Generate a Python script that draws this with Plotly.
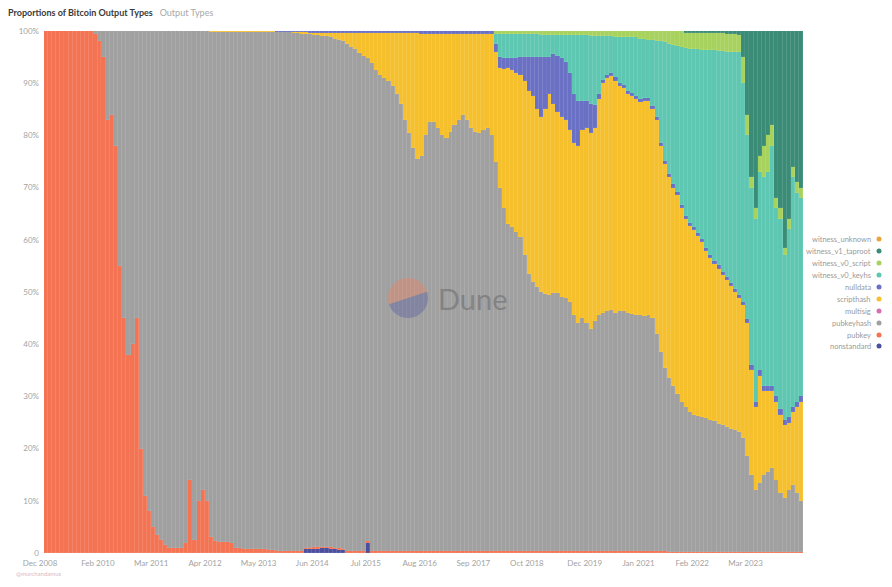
import numpy as np
import pandas as pd
import plotly.graph_objects as go

# monthly shares (%), Jan 2009 .. Apr 2024 (184 months)
months = pd.date_range("2009-01-01", periods=184, freq="MS") + pd.Timedelta(days=14)

pubkey = (
    [100] * 12                                                          # 2009
    + [99.5, 98, 95, 83, 84, 78, 55, 45, 38, 40, 45, 20]                # 2010
    + [11, 8, 5, 3.5, 2.5, 1.5, 1, 1, 1, 1, 2, 14]                      # 2011
    + [2.5, 10, 12, 10, 3, 2.3, 2.2, 2.2, 2.2, 2, 1, 0.9]               # 2012
    + [0.8, 0.8, 0.8, 0.8, 0.7, 0.7, 0.6, 0.5, 0.3, 0.3, 0.3, 0.3]      # 2013
    + [0.3] * 12 + [0.3] * 12 + [0.3] * 12 + [0.3] * 12                 # 2014-2017
    + [0.3] * 12 + [0.3] * 12 + [0.3] * 12                              # 2018-2020
    + [0.3, 0.3, 0.3, 0.3, 0.3, 0.3, 0.3, 0.2, 0.2, 0.2, 0.2, 0.2]      # 2021
    + [0.2] * 12 + [0.2] * 12 + [0.2] * 4                               # 2022-2024
)

nonstandard = (
    [0] * 60
    + [0, 0, 0, 0.7, 0.7, 0.8, 0.8, 0.9, 0.9, 0.8, 0.7, 0.6]            # 2014
    + [0.5, 0, 0, 0, 0, 0, 2.0, 0, 0, 0, 0, 0]                          # 2015
    + [0] * 112
)

pubkeyhash = (
    [0] * 12
    + [0.5, 2, 5, 17, 16, 22, 45, 55, 62, 60, 55, 80]
    + [89, 92, 95, 96.5, 97.5, 98.5, 99, 99, 99, 99, 98, 86]
    + [97.5, 90, 88, 90, 96.9, 97.6, 97.7, 97.7, 97.7, 97.9, 98.9, 99]
    + [99.1, 99.1, 99.1, 99.1, 99.2, 99.2, 99.3, 99.4, 99.5, 99.5, 99.5, 99.5]
    + [99.3, 99.3, 99.2, 98.5, 98.4, 98.2, 98.1, 97.8, 97.8, 97.7, 97.5, 97.3]
    + [97.2, 97.3, 96.7, 96.2, 95.5, 95.0, 92.5, 93.5, 92.2, 91.2, 90.7, 90.2]
    + [89.2, 87.7, 85.7, 82.7, 80.2, 77.2, 75.2, 75.7, 79.7, 82.2, 82.2, 81.2]
    + [79.7, 79.2, 80.4, 81.7, 82.7, 83.7, 82.7, 81.2, 80.4, 80.2, 80.7, 81.2]
    + [79.7, 74.7, 69.7, 65.7, 62.7, 62.2, 61.2, 60.2, 56.7, 53.2, 51.7, 50.7]
    + [49.7, 49.4, 49.1, 49.5, 49.5, 48.7, 48.5, 47.7, 45.2, 43.7, 44.7, 43.7]
    + [42.7, 44.2, 45.2, 45.7, 46, 46.2, 45.7, 46, 46, 45.7, 45.5, 45.3]
    + [45.2, 45.1, 45.3, 44.7, 41.7, 38.2, 35.2, 33.3, 31.8, 30.3, 28.8, 27.8]
    + [26.8, 26.2, 26, 25.8, 25.7, 25.3, 25, 24.6, 24.3, 24, 23.6, 23.3]
    + [23, 21.8, 18.3, 14.8, 11.8, 13.3, 14.8, 15.3, 16.1, 13.8, 11.3, 10.3]
    + [11.8, 12.8, 11.3, 9.8]
)

multisig = [0] * 184

scripthash = (
    [0] * 36
    + [0, 0, 0, 0, 0.1, 0.1, 0.1, 0.1, 0.1, 0.1, 0.1, 0.1]
    + [0.1] * 12
    + [0.2, 0.2, 0.3, 0.3, 0.3, 0.4, 0.4, 0.6, 0.6, 0.8, 1.1, 1.4]
    + [1.6, 2.0, 2.6, 3.1, 3.8, 4.3, 4.8, 5.8, 7.1, 8.1, 8.6, 9.1]
    + [10.1, 11.6, 13.6, 16.6, 19.1, 22.1, 24.1, 23.4, 19.4, 16.9, 16.9, 17.9]
    + [19.4, 19.9, 18.7, 17.4, 16.4, 15.4, 16.4, 17.9, 18.7, 18.9, 18.4, 17.9]
    + [19.4, 21, 23, 26.8, 30, 30, 30.5, 31, 33.5, 35, 35.5, 34]
    + [33.5, 35.3, 38.6, 36.2, 34.7, 34.5, 34.2, 33, 33, 34, 36, 37.4]
    + [37.5, 37, 41.5, 44, 44.7, 44.8, 44.5, 43.2, 42.7, 42, 41.7, 41.4]
    + [40.9, 41.1, 40.9, 40, 41, 39.5, 39, 38.5, 38, 38, 37, 36]
    + [35.7, 35.4, 34.5, 33.5, 31.9, 31, 30.2, 29.7, 28.7, 28.1, 27.4, 26.5]
    + [25.6, 25.5, 25.5, 20, 16, 20.5, 16, 15.5, 14.7, 15, 15, 14]
    + [13, 14, 16.5, 19]
)

nulldata = (
    [0] * 48
    + [0, 0, 0, 0, 0, 0, 0, 0, 0.1, 0.1, 0.1, 0.1]
    + [0.2, 0.2, 0.2, 0.2, 0.3, 0.3, 0.4, 0.4, 0.4, 0.4, 0.4, 0.4]
    + [0.4] * 12
    + [0.4, 0.4, 0.4, 0.4, 0.4, 0.4, 0.4, 0.6, 0.6, 0.6, 0.6, 0.6]
    + [0.6] * 12
    + [0.6, 1.5, 2, 2, 1.8, 2.3, 2.8, 3.5, 4.5, 6.5, 7.5, 10]
    + [11.5, 10, 7, 9.5, 10.8, 11.3, 11, 11, 9.5, 8.5, 5.5, 5.1]
    + [5.5, 4.3, 1, 0.6, 0.6, 0.6, 0.6, 0.6, 0.6, 0.6, 0.6, 0.6]
    + [0.6] * 12 + [0.6] * 12
    + [0.6, 0.6, 0.8, 1, 1, 1, 1, 1, 1, 1, 1, 1]
    + [1, 1, 1, 1]
)

witness_v0_keyhash = (
    [0] * 108
    + [0, 2, 4.4, 4.6, 4.6, 4.6, 4.6, 4.4, 4.4, 4.4, 4.4, 4.4]
    + [4.2, 4.2, 4.2, 3.7, 3.9, 4.4, 5.2, 7.2, 11.2, 12.7, 12.7, 12.7]
    + [13, 13.2, 11, 8.4, 7.4, 7.1, 7.7, 8.7, 9.2, 10.2, 10.7, 11.2]
    + [11.5, 11.4, 11.1, 12.6, 14.4, 19.4, 22.7, 24.9, 26.7, 28.1, 30.4, 32.2]
    + [33.3, 34.1, 35.2, 36.3, 38, 39.2, 40.3, 41.1, 42.4, 43.1, 44.2, 45.4]
    + [46.6, 41.9, 35.2, 34, 35, 38, 40, 41, 46, 36, 36.5, 31.5]
    + [36, 44, 40, 38]
)

witness_v0_scripthash = (
    [0] * 108
    + [0, 0.5, 0.6, 0.6, 0.6, 0.6, 0.6, 0.6, 0.6, 0.6, 0.6, 0.6]
    + [0.8] * 12
    + [1, 1, 1, 1, 1, 1, 1.2, 1.2, 1.2, 1.2, 1.2, 1.2]
    + [1.5, 1.5, 1.8, 1.8, 2, 2, 2.2, 2.5, 2.7, 2.8, 3, 2.9]
    + [3.1, 3.2, 3.2, 3.2, 3.2, 3.3, 3.3, 3.4, 3.4, 3.5, 3.5, 3.5]
    + [3.3, 5, 4, 2, 2, 3, 6, 7, 4, 2, 2, 1.5]
    + [2, 2, 2, 2]
)

witness_v1_taproot = (
    [0] * 155
    + [0.3]
    + [0.3, 0.3, 0.3, 0.4, 0.4, 0.4, 0.4, 0.4, 0.4, 0.5, 0.5, 0.5]
    + [0.7, 5, 16, 28, 34, 24, 22, 20, 18, 32, 34, 41.5]
    + [36, 26, 29, 30]
)

witness_unknown = [0] * 184

# bottom -> top stacking order
series = [
    ("nonstandard", nonstandard, "#4B4F9E"),
    ("pubkey", pubkey, "#F47352"),
    ("pubkeyhash", pubkeyhash, "#A0A0A0"),
    ("multisig", multisig, "#D46FB2"),
    ("scripthash", scripthash, "#F6C02C"),
    ("nulldata", nulldata, "#6A70C4"),
    ("witness_v0_keyhs", witness_v0_keyhash, "#5EC7B1"),
    ("witness_v0_script", witness_v0_scripthash, "#A8D25E"),
    ("witness_v1_taproot", witness_v1_taproot, "#3A8C77"),
    ("witness_unknown", witness_unknown, "#E9A53C"),
]

tick_dates = ["2008-12-01", "2010-02-01", "2011-03-01", "2012-04-01", "2013-05-01",
              "2014-06-01", "2015-07-01", "2016-08-01", "2017-09-01", "2018-10-01",
              "2019-12-01", "2021-01-01", "2022-02-01", "2023-03-01"]
tick_text = ["Dec 2008", "Feb 2010", "Mar 2011", "Apr 2012", "May 2013", "Jun 2014",
             "Jul 2015", "Aug 2016", "Sep 2017", "Oct 2018", "Dec 2019", "Jan 2021",
             "Feb 2022", "Mar 2023"]

FONT = "Lato, Inter, sans-serif"
OFF = 8                      # page body margin the browser adds around the plot
W, H = 892 - OFF, 587 - OFF
L, R, T, B = 40 - OFF, 803 - OFF, 31 - OFF, 553 - OFF


def px(x, y):
    """window pixel -> paper coords"""
    return (x - OFF - L) / (R - L), (B - (y - OFF)) / (B - T)


fig = go.Figure()
for name, vals, col in series:
    fig.add_trace(go.Bar(
        x=months, y=vals, name=name, marker_color=col,
        marker_line=dict(width=0.3, color="rgba(255,255,255,0.22)"),
        width=31.5 * 86400000, showlegend=False,
        hovertemplate=name + "<br>%{x|%b %Y}<br>%{y:.1f}%<extra></extra>"))

fig.update_layout(
    width=W, height=H, barmode="stack", barnorm="percent", bargap=0,
    margin=dict(l=L, r=W - R, t=T, b=H - B),
    paper_bgcolor="white", plot_bgcolor="white",
    font=dict(family=FONT, size=8, color="#a3a3a3"),
    title=dict(text="<b>Proportions of Bitcoin Output Types</b>"
                    "   <span style='color:#a8a8a8;font-weight:normal'>Output Types</span>",
               x=0.0, xanchor="left", y=1 - 4.5 / H, yanchor="middle",
               font=dict(family=FONT, size=9, color="#3a3a3a")),
)
fig.update_xaxes(range=["2008-12-01", "2024-04-28"], tickvals=tick_dates, ticktext=tick_text,
                 showgrid=False, showline=False, zeroline=False, ticks="",
                 ticklabelstandoff=4, tickfont=dict(size=8, color="#a3a3a3"))
fig.update_yaxes(range=[0, 100], tickvals=list(range(0, 101, 10)),
                 ticktext=["0"] + [f"{v}%" for v in range(10, 101, 10)],
                 showgrid=False, zeroline=False, showline=False, ticks="",
                 tickfont=dict(size=8, color="#a3a3a3"))

shapes, annotations = [], []

# hand-drawn legend on the right (label then dot)
legend_y = [239, 251, 263, 275, 287, 299, 311, 323, 335, 346]
for (name, _, col), ly in zip(reversed(series), legend_y):
    tx, ty = px(873, ly)
    annotations.append(dict(xref="paper", yref="paper", x=tx, y=ty, text=name,
                            showarrow=False, xanchor="right", yanchor="middle",
                            font=dict(size=7.5, color="#9a9a9a")))
    x0, y0 = px(876.5, ly + 2.5)
    x1, y1 = px(881.5, ly - 2.5)
    shapes.append(dict(type="circle", xref="paper", yref="paper", x0=x0, y0=y0,
                       x1=x1, y1=y1, fillcolor=col, line=dict(width=0)))

# Dune watermark: split circle + word
cx, cy, rad = 408, 298, 20
split = np.deg2rad(18)
for start, fill in [(split, "rgba(245,125,95,0.38)"), (split + np.pi, "rgba(70,75,160,0.32)")]:
    ang = np.linspace(start, start + np.pi, 40)
    pts = [px(cx + rad * np.cos(a), cy - rad * np.sin(a)) for a in ang]
    path = "M " + " L ".join(f"{a:.5f},{b:.5f}" for a, b in pts) + " Z"
    shapes.append(dict(type="path", xref="paper", yref="paper", path=path,
                       fillcolor=fill, line=dict(width=0)))
dx, dy = px(472, 298)
annotations.append(dict(xref="paper", yref="paper", x=dx, y=dy, text="Dune",
                        showarrow=False, xanchor="center", yanchor="middle",
                        font=dict(family=FONT, size=29, color="rgba(105,105,105,0.55)")))

# author handle bottom-left
hx, hy = px(14, 573)
annotations.append(dict(xref="paper", yref="paper", x=hx, y=hy, text="@murchandamus",
                        showarrow=False, xanchor="left", yanchor="middle",
                        font=dict(size=6, color="#d8b8c4")))

fig.update_layout(shapes=shapes, annotations=annotations)
fig.write_html("out.html")
